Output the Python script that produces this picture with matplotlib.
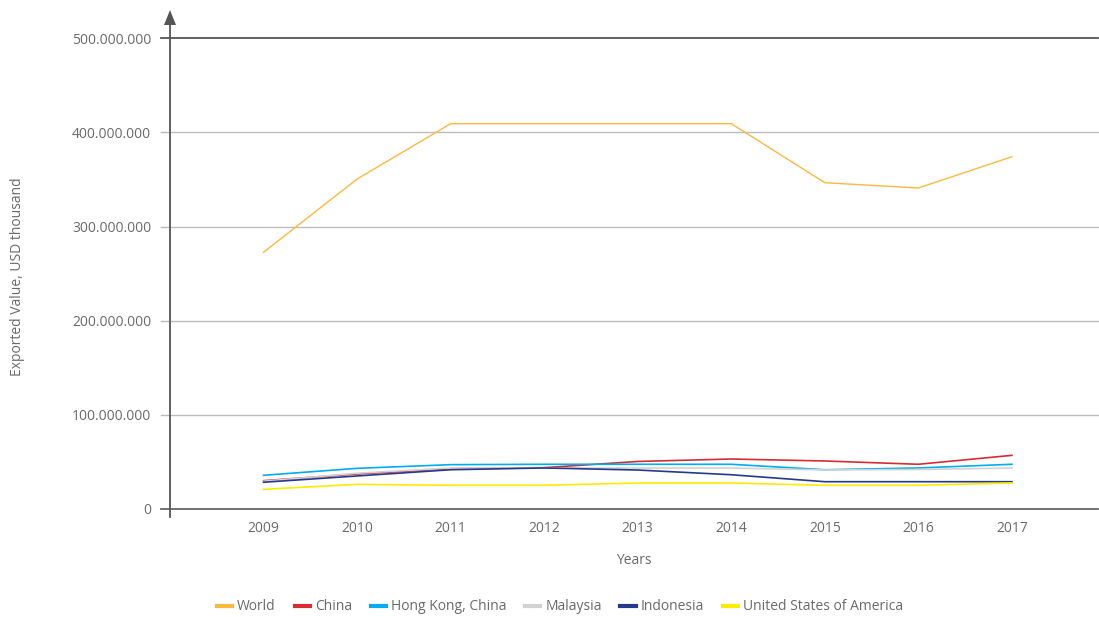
import matplotlib
matplotlib.use("Agg")
import matplotlib.pyplot as plt
from matplotlib.ticker import FuncFormatter
from matplotlib.lines import Line2D
from matplotlib.patches import Polygon

plt.rcParams['font.family'] = ['Open Sans', 'DejaVu Sans']

# Exported value, USD thousand
years = [2009, 2010, 2011, 2012, 2013, 2014, 2015, 2016, 2017]
world = [272.7e6, 350.5e6, 409.3e6, 409.3e6, 409.3e6, 409.3e6, 346.6e6, 341.0e6, 374.2e6]
china = [30.1e6, 37.2e6, 42.8e6, 43.9e6, 50.5e6, 53.1e6, 51.0e6, 47.5e6, 57.0e6]
hong_kong = [35.8e6, 43.2e6, 47.1e6, 47.5e6, 47.5e6, 47.5e6, 41.7e6, 43.6e6, 47.5e6]
malaysia = [29.5e6, 38.0e6, 43.5e6, 43.5e6, 43.5e6, 43.5e6, 41.5e6, 42.0e6, 43.5e6]
indonesia = [28.4e6, 35.1e6, 41.7e6, 43.6e6, 41.4e6, 36.4e6, 29.0e6, 29.0e6, 29.0e6]
usa = [20.9e6, 26.2e6, 25.2e6, 25.2e6, 27.6e6, 27.6e6, 25.2e6, 25.2e6, 27.6e6]

series_names = ["World", "China", "Hong Kong, China", "Malaysia", "Indonesia",
                "United States of America"]
series_values = [world, china, hong_kong, malaysia, indonesia, usa]
series_colors = ["#FBB942", "#D42E35", "#00AEEF", "#D2D2D2", "#26398A", "#FFEC00"]
series_widths = [1.0, 1.2, 1.2, 1.2, 1.2, 1.2]

y_ticks = [0, 100e6, 200e6, 300e6, 400e6, 500e6]

TEXT = "#6a6a6a"
W, H = 1099, 617

fig = plt.figure(figsize=(W / 100, H / 100), dpi=100)
ax = fig.add_axes([170 / W, 1 - 509 / H, 928 / W, (509 - 38.3) / H])

for name, vals, col, lw in zip(series_names, series_values, series_colors, series_widths):
    ax.plot(years, vals, color=col, lw=lw, label=name, solid_joinstyle='miter', zorder=3)

ax.set_xlim(2008.0, 2017.92)
ax.set_ylim(0, 500e6)

# horizontal grid lines, each with a short tick stub left of the axis
grid_colors = {0: "#666666", 500e6: "#555555"}
for yv in y_ticks:
    col = grid_colors.get(yv, "#bcbcbc")
    lw = 1.3 if yv in grid_colors else 1.0
    ax.plot([-9 / 928, 1], [yv, yv], transform=ax.get_yaxis_transform(),
            color=col, lw=lw, clip_on=False, zorder=1)

for s in ax.spines.values():
    s.set_visible(False)

ax.set_yticks(y_ticks)
ax.yaxis.set_major_formatter(FuncFormatter(lambda v, p: f"{v:,.0f}".replace(",", ".")))
ax.set_xticks(years)
ax.tick_params(axis='y', length=0, pad=13.5, labelsize=10, labelcolor=TEXT)
ax.tick_params(axis='x', length=0, pad=9, labelsize=10, labelcolor=TEXT)

# vertical axis with arrow head
x0 = 170 / W
fig.add_artist(Line2D([x0, x0], [1 - 517 / H, 1 - 24 / H], transform=fig.transFigure,
                      color="#555555", lw=1.3))
fig.add_artist(Polygon([[164 / W, 1 - 25 / H], [176 / W, 1 - 25 / H], [170 / W, 1 - 10 / H]],
                       closed=True, transform=fig.transFigure, facecolor="#555555",
                       edgecolor="none"))

fig.text(18 / W, 1 - 277 / H, "Exported Value, USD thousand", rotation=90,
         ha='center', va='center', fontsize=10, color=TEXT)
fig.text(634 / W, 1 - 560 / H, "Years", ha='center', va='center', fontsize=10, color=TEXT)

handles = [Line2D([0], [0], color=c, lw=3) for c in series_colors]
leg = fig.legend(handles, series_names, loc='center', bbox_to_anchor=(560 / W, 1 - 607 / H),
                 ncol=6, frameon=False, fontsize=10, handlelength=1.1, handletextpad=0.35,
                 columnspacing=1.35, borderaxespad=0)
for t in leg.get_texts():
    t.set_color(TEXT)

fig.savefig("out.png", dpi=100)
